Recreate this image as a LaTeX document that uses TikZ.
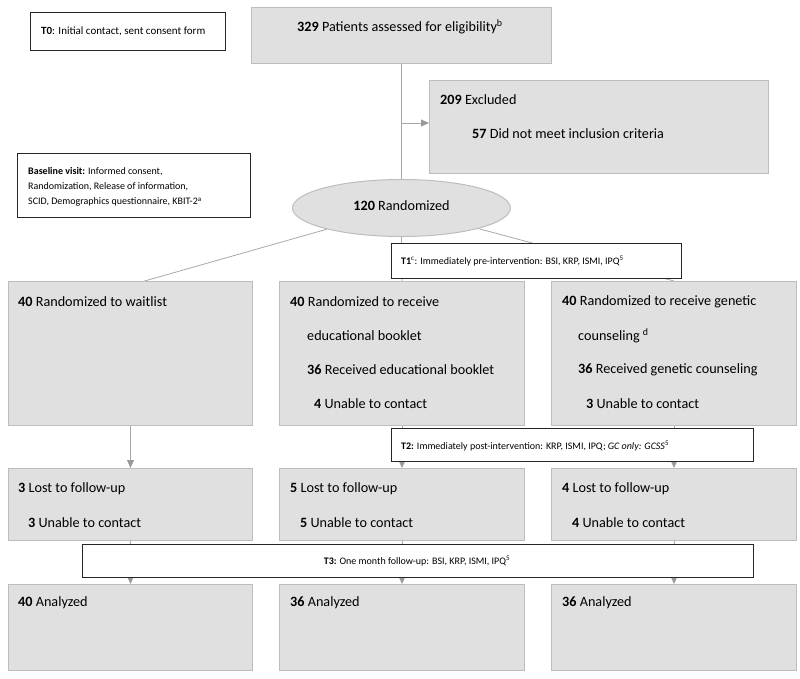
\documentclass[tikz,border=0pt]{standalone}
\usepackage{fontspec}
\setmainfont{Carlito}
\usetikzlibrary{arrows.meta,shapes.geometric}
\definecolor{boxfill}{HTML}{E0E0E0}
\definecolor{boxline}{HTML}{BDBDBD}
\definecolor{lineg}{HTML}{A8A8A8}
\definecolor{tipg}{HTML}{9A9A9A}
\pgfdeclarelayer{bg}
\pgfsetlayers{bg,main}
\tikzset{
  graybox/.style={draw=boxline, fill=boxfill, line width=1pt, inner sep=0pt, anchor=north west},
  notebox/.style={draw=black!85, fill=white, line width=1.1pt, inner sep=0pt, anchor=north west},
  big/.style={font=\fontsize{14.2}{17}\selectfont, inner sep=0pt, anchor=west},
  small/.style={font=\fontsize{10}{12}\selectfont, inner sep=0pt, anchor=west},
  conn/.style={draw=lineg, line width=0.8pt},
  arr/.style={conn, -{Triangle[length=8pt,width=7pt,color=tipg]}}
}
\begin{document}
\begin{tikzpicture}[x=1pt,y=-1pt]
\useasboundingbox (0,0) rectangle (800,678);
% boxes
\node[notebox, minimum width=195pt, minimum height=38pt] (t0) at (30,12) {};
\node[graybox, minimum width=300pt, minimum height=56pt] (elig) at (251,7) {};
\node[graybox, minimum width=339pt, minimum height=93pt] (excl) at (429,80) {};
\node[notebox, minimum width=233pt, minimum height=64pt] (base) at (17,153) {};
\node[ellipse, draw=boxline, fill=boxfill, line width=1pt, minimum width=218pt, minimum height=57pt, inner sep=0pt] (rand) at (401.5,208) {};
\node[notebox, minimum width=290pt, minimum height=35pt] (t1) at (391,243) {};
\node[graybox, minimum width=244pt, minimum height=144pt] (wait) at (8,281) {};
\node[graybox, minimum width=245pt, minimum height=144pt] (book) at (279,281) {};
\node[graybox, minimum width=245pt, minimum height=144pt] (gc) at (551,281) {};
\node[notebox, minimum width=362pt, minimum height=33pt] (t2) at (391,428) {};
\node[graybox, minimum width=244pt, minimum height=72pt] (lostA) at (8,468) {};
\node[graybox, minimum width=245pt, minimum height=72pt] (lostB) at (279,468) {};
\node[graybox, minimum width=245pt, minimum height=72pt] (lostC) at (551,468) {};
\node[notebox, minimum width=671pt, minimum height=33pt] (t3) at (82,544) {};
\node[graybox, minimum width=244pt, minimum height=86pt] (anA) at (8,584) {};
\node[graybox, minimum width=245pt, minimum height=86pt] (anB) at (279,584) {};
\node[graybox, minimum width=245pt, minimum height=86pt] (anC) at (551,584) {};
% connectors
\begin{pgfonlayer}{bg}
\draw[conn] (elig.south) -- (rand.north);
\coordinate (junc) at (401.5,123);
\draw[arr] (junc) -- (junc -| excl.west);
\draw[conn] (rand) -- ([xshift=14pt]wait.north);
\draw[conn] (rand) -- (gc.north);
\draw[conn] (rand.south) -- (book.north);
\draw[arr] (wait.south) -- (lostA.north);
\draw[arr] (book.south) -- (lostB.north);
\draw[arr] (gc.south) -- (lostC.north);
\draw[arr] (lostA.south) -- (anA.north);
\draw[arr] (lostB.south) -- (anB.north);
\draw[arr] (lostC.south) -- (anC.north);
\end{pgfonlayer}
% texts
\node[small, font=\fontsize{11}{13}\selectfont] (t0t) at (41,31) {\textbf{T0}: Initial contact, sent consent form};
\node[big] (eligt) at (297,27) {\textbf{329} Patients assessed for eligibility\textsuperscript{b}};
\node[big] (exclt1) at (440,100) {\textbf{209} Excluded};
\node[big] (exclt2) at (472,134) {\textbf{57} Did not meet inclusion criteria};
\node[small] (baset1) at (28,172) {\textbf{Baseline visit:} Informed consent,};
\node[small] (baset2) at (28,187) {Randomization, Release of information,};
\node[small] (baset3) at (28,202) {SCID, Demographics questionnaire, KBIT-2\textsuperscript{a}};
\node[big, anchor=center] (randt) at (401.5,206) {\textbf{120} Randomized};
\node[small] (t1t) at (401,261) {\textbf{T1}\textsuperscript{c}: Immediately pre-intervention: BSI, KRP, ISMI, IPQ\textsuperscript{5}};
\node[big] (waitt) at (18,302) {\textbf{40} Randomized to waitlist};
\node[big] (bookt1) at (290,302) {\textbf{40} Randomized to receive};
\node[big] (bookt2) at (307,336) {educational booklet};
\node[big] (bookt3) at (307,370) {\textbf{36} Received educational booklet};
\node[big] (bookt4) at (314,404) {\textbf{4} Unable to contact};
\node[big] (gct1) at (562,302) {\textbf{40} Randomized to receive genetic};
\node[big] (gct2) at (578,336) {counseling \textsuperscript{d}};
\node[big] (gct3) at (578,370) {\textbf{36} Received genetic counseling};
\node[big] (gct4) at (586,404) {\textbf{3} Unable to contact};
\node[small] (t2t) at (401,446) {\textbf{T2:} Immediately post-intervention: KRP, ISMI, IPQ; \textit{GC only: GCSS}\textsuperscript{5}};
\node[big] (lostAt1) at (18,489) {\textbf{3} Lost to follow-up};
\node[big] (lostAt2) at (28,523) {\textbf{3} Unable to contact};
\node[big] (lostBt1) at (290,489) {\textbf{5} Lost to follow-up};
\node[big] (lostBt2) at (300,523) {\textbf{5} Unable to contact};
\node[big] (lostCt1) at (562,489) {\textbf{4} Lost to follow-up};
\node[big] (lostCt2) at (572,523) {\textbf{4} Unable to contact};
\node[small, anchor=center] (t3t) at (417,561) {\textbf{T3:} One month follow-up: BSI, KRP, ISMI, IPQ\textsuperscript{5}};
\node[big] (anAt) at (18,603) {\textbf{40} Analyzed};
\node[big] (anBt) at (290,603) {\textbf{36} Analyzed};
\node[big] (anCt) at (562,603) {\textbf{36} Analyzed};
\end{tikzpicture}
\end{document}
